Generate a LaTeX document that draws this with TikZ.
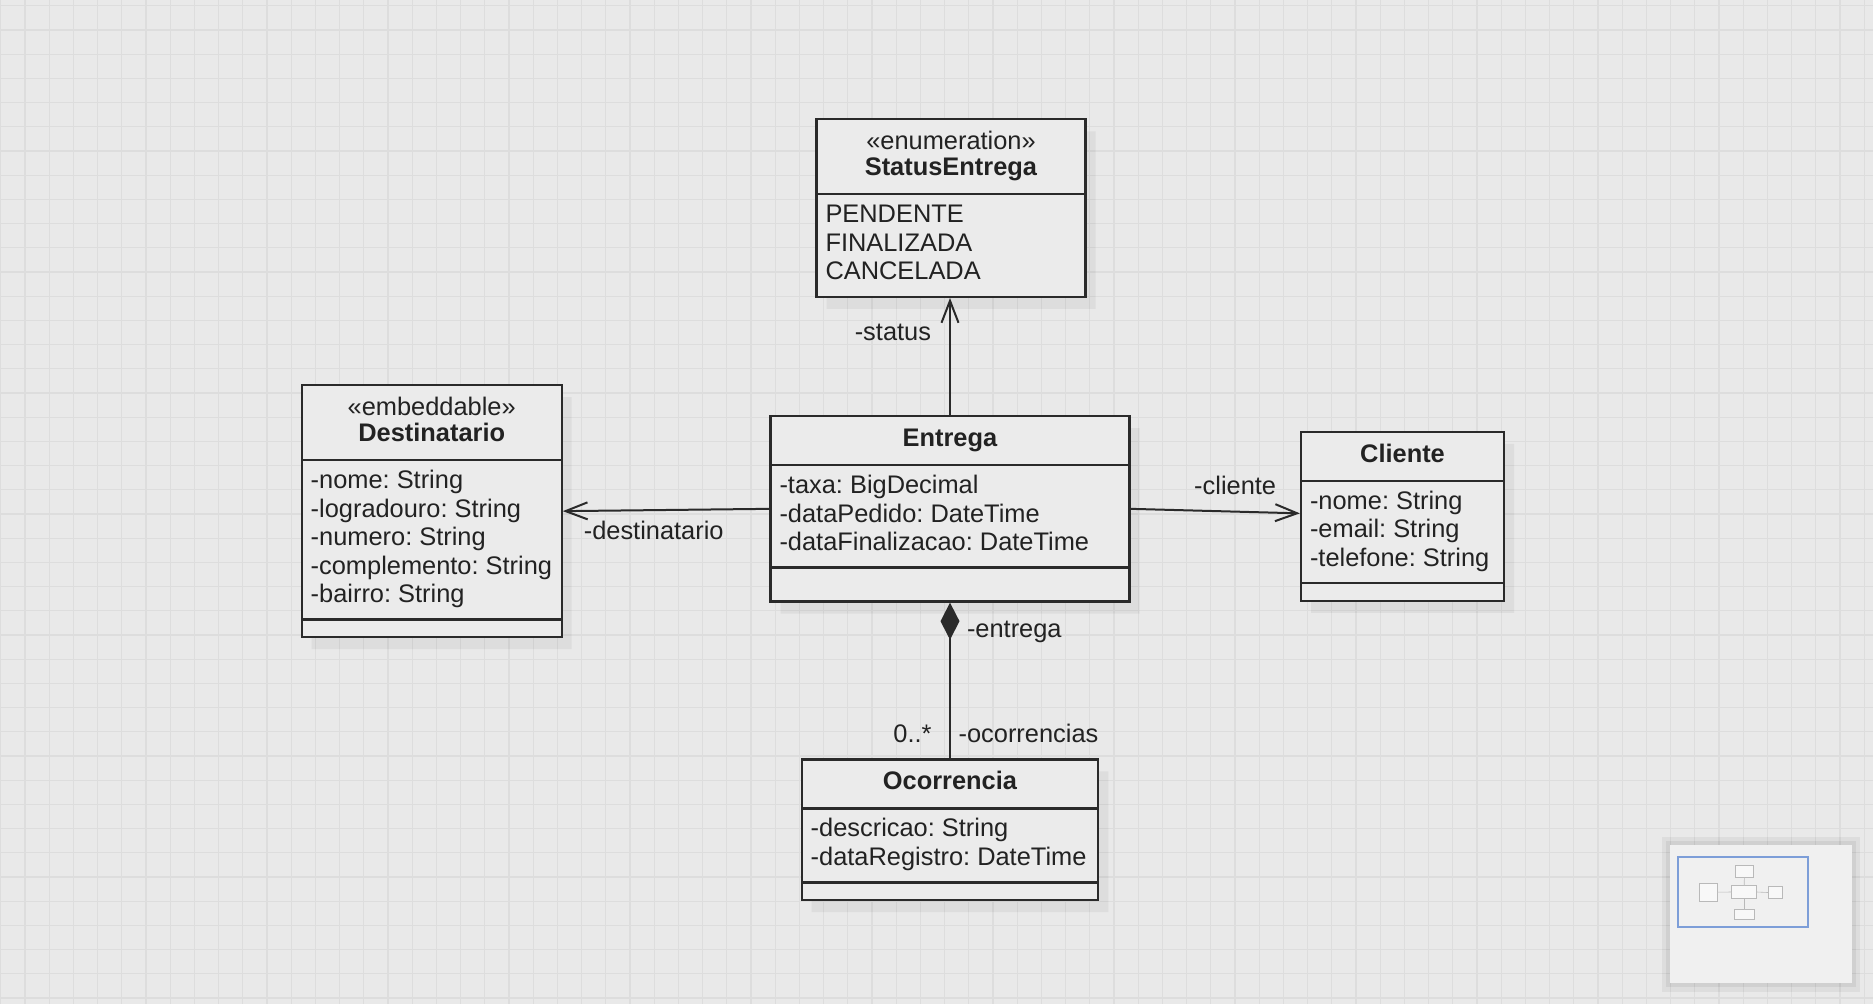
\documentclass[tikz,border=0pt]{standalone}
\usepackage{fontspec}
\setmainfont{Liberation Sans}
\usepackage{xcolor}
\usetikzlibrary{shapes.multipart}
\usetikzlibrary{arrows.meta}
\usetikzlibrary{shadows}
\usetikzlibrary{calc}
\frenchspacing

\definecolor{canvas}{HTML}{E9E9E9}
\definecolor{gridcol}{HTML}{DDDDDD}
\definecolor{boxcol}{HTML}{EBEBEB}
\definecolor{inkcol}{HTML}{222222}
\definecolor{edgecol}{HTML}{2A2A2A}
\definecolor{viewcol}{HTML}{7D9ED8}

\newcommand{\umlhead}[2]{\parbox{#1}{\centering\baselineskip=13pt\rule{0pt}{11pt}#2\rule[-5pt]{0pt}{0pt}}}
\newcommand{\umlbody}[2]{\parbox{#1}{\raggedright\strut#2\strut}}

\tikzset{
    umlfont/.style={font=\fontsize{12.7}{14.25}\selectfont, text=inkcol},
    umlclass/.style={rectangle split, rectangle split parts=3, draw=edgecol,
        line width=1.1pt, fill=boxcol, umlfont, anchor=north,
        inner xsep=4.5pt, inner ysep=3.7pt,
        drop shadow={shadow xshift=5pt, shadow yshift=-6pt, fill=black, opacity=0.05}},
    assoc/.style={draw=edgecol, line width=1pt, -{Straight Barb[length=11pt,width=8.5pt]}},
    comp/.style={draw=edgecol, line width=1pt, {Diamond[length=18.5pt,width=9.5pt]}-},
    lbl/.style={umlfont, inner sep=0pt},
    mini/.style={draw=gray!55, line width=0.3pt, fill=white!70!canvas}
}

\begin{document}
\begin{tikzpicture}[x=0.5pt, y=-0.5pt]
    \useasboundingbox (0, 0) rectangle (1873, 1004);
    \fill [canvas] (0, 0) rectangle (1873, 1004);
    \draw [gridcol, line width=0.6pt, step=12.1pt, xshift=0.4pt, yshift=-2.9pt] (-30, -30) grid (1900, 1040);

    \path (951, 118.3) node [umlclass, rectangle split parts=2] (st)
        {\umlhead{125.5pt}{«enumeration»\\\textbf{StatusEntrega}}
        \nodepart{two}\umlbody{125.5pt}{PENDENTE\\FINALIZADA\\CANCELADA}};
    \path (431.7, 384) node [umlclass] (dest)
        {\umlhead{121pt}{«embeddable»\\\textbf{Destinatario}}
        \nodepart{two}\umlbody{121pt}{-nome: String\\-logradouro: String\\-numero: String\\-complemento: String\\-bairro: String}
        \nodepart{three}\rule{0pt}{0.3pt}};
    \path (950, 415) node [umlclass] (ent)
        {\umlhead{170.5pt}{\textbf{Entrega}}
        \nodepart{two}\umlbody{170.5pt}{-taxa: BigDecimal\\-dataPedido: DateTime\\-dataFinalizacao: DateTime}
        \nodepart{three}\rule{0pt}{8.5pt}};
    \path (1402.5, 430.7) node [umlclass] (cli)
        {\umlhead{92.5pt}{\textbf{Cliente}}
        \nodepart{two}\umlbody{92.5pt}{-nome: String\\-email: String\\-telefone: String}
        \nodepart{three}\rule{0pt}{0.3pt}};
    \path (950, 758.3) node [umlclass] (oc)
        {\umlhead{139.3pt}{\textbf{Ocorrencia}}
        \nodepart{two}\umlbody{139.3pt}{-descricao: String\\-dataRegistro: DateTime}
        \nodepart{three}\rule{0pt}{0.3pt}};

    \draw [assoc] (ent.north) -- (ent.north |- st.south)
        node [lbl, pos=0.634, anchor=base east, xshift=-9pt] {-status};
    \draw [assoc] (ent.west) -- (dest.east)
        node [lbl, pos=1, anchor=base west, xshift=10pt, yshift=-14.3pt] {-destinatario};
    \draw [assoc] (ent.east) -- ([yshift=1.5pt]cli.west)
        node [lbl, pos=0, anchor=base west, xshift=31.3pt, yshift=7.3pt] {-cliente};
    \draw [comp] (ent.south) -- (oc.north)
        node [lbl, pos=0, anchor=base west, xshift=8pt, yshift=-17.2pt] {-entrega}
        node [lbl, pos=1, anchor=base east, xshift=-8.7pt, yshift=7.8pt] {0..*}
        node [lbl, pos=1, anchor=base west, xshift=3.8pt, yshift=7.8pt] {-ocorrencias};

    \fill [black, opacity=0.05] (1662, 837) rectangle (1860, 992);
    \fill [black, opacity=0.06] (1666, 841) rectangle (1856, 987);
    \fill [white!30!canvas] (1670, 845) rectangle (1852, 983);
    \coordinate (mm) at (1678.3, 856.7);
    \foreach \cls in {st, dest, ent, cli, oc}
        \draw [mini] ($(mm)+0.0694*(\cls.north west)$) rectangle ($(mm)+0.0694*(\cls.south east)$);
    \foreach \a/\b in {ent.north/st.south, ent.west/dest.east, ent.east/cli.west, ent.south/oc.north}
        \draw [mini] ($(mm)+0.0694*(\a)$) -- ($(mm)+0.0694*(\b)$);
    \draw [viewcol, line width=1pt] (1678.3, 856.7) rectangle (1808.3, 926.7);
\end{tikzpicture}
\end{document}
